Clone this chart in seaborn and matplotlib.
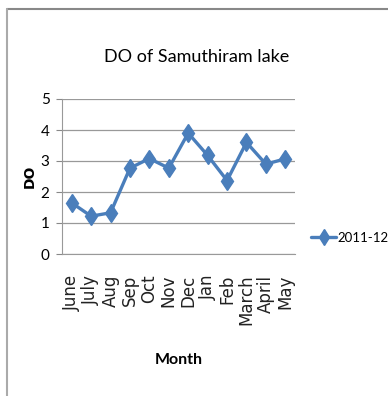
import matplotlib
matplotlib.use("Agg")
import matplotlib.pyplot as plt
from matplotlib.lines import Line2D
import seaborn as sns
import pandas as pd

months = ["June", "July", "Aug", "Sep", "Oct", "Nov", "Dec", "Jan", "Feb", "March", "April", "May"]
do_2011_12 = [1.65, 1.22, 1.33, 2.77, 3.08, 2.77, 3.9, 3.18, 2.37, 3.6, 2.9, 3.07]
series_name = "2011-12"

df = pd.DataFrame({"Month": months, "DO": do_2011_12, "Year": series_name})

sns.set_style("white")
narrow = ["Lato", "DejaVu Sans"]
plt.rcParams["font.family"] = ["DejaVu Sans"]
plt.rcParams["text.color"] = "black"
plt.rcParams["axes.labelcolor"] = "black"
plt.rcParams["xtick.color"] = "black"
plt.rcParams["ytick.color"] = "black"

fig = plt.figure(figsize=(3.88, 3.96), dpi=100)
ax = fig.add_axes([62 / 388, 1 - 254 / 396, (295 - 62) / 388, (254 - 99) / 396])

line_color = "#4a7ebb"
sns.lineplot(data=df, x="Month", y="DO", hue="Year", palette=[line_color],
             sort=False, marker="d", markersize=9.5, markeredgewidth=1,
             linewidth=2.4, markeredgecolor=line_color, ax=ax, legend=False)

ax.set_ylim(0, 5)
ax.set_xlim(-0.5, len(months) - 0.5)
ax.set_yticks(range(0, 6))
ax.set_yticklabels([str(v) for v in range(0, 6)], fontsize=11, family=narrow)
ax.set_xticks(range(len(months)))
ax.set_xticklabels(months, rotation=90, fontsize=12, family=["DejaVu Sans"],
                   color="#222222")
ax.tick_params(axis="y", length=4, color="#888888", pad=5, direction="out", left=True)
ax.tick_params(axis="x", length=0, pad=15)
ax.yaxis.grid(True, color="#999999", linewidth=0.9)
ax.set_axisbelow(True)
for side in ["top", "right"]:
    ax.spines[side].set_visible(False)
ax.spines["left"].set_color("#999999")
ax.spines["bottom"].set_color("#999999")

ax.set_ylabel("DO", fontsize=10, fontweight="bold", labelpad=3)
ax.set_xlabel("Month", fontsize=11.5, fontweight="bold", family=narrow, labelpad=20)
fig.text(197 / 388, 1 - 57 / 396, "DO of Samuthiram lake", ha="center", va="center",
         fontsize=13, family=narrow, color="black")

handle = Line2D([], [], color=line_color, linewidth=2.4, marker="d",
                markersize=8, markeredgewidth=1, markeredgecolor=line_color)
fig.legend([handle], [series_name], loc="center left",
           bbox_to_anchor=(311 / 388, 1 - 238 / 396), frameon=False,
           borderpad=0, borderaxespad=0, handlelength=1.9, handletextpad=0.1,
           prop={"family": narrow, "size": 9.5})

# outer frame of the chart area
fig.add_artist(Line2D([6.5 / 388, 1], [1 - 8.5 / 396, 1 - 8.5 / 396],
                      transform=fig.transFigure, color="#888888", linewidth=1.5))
fig.add_artist(Line2D([6.5 / 388, 6.5 / 388], [0, 1 - 8.5 / 396],
                      transform=fig.transFigure, color="#aaaaaa", linewidth=1.5))

fig.savefig("out.png", dpi=100)
